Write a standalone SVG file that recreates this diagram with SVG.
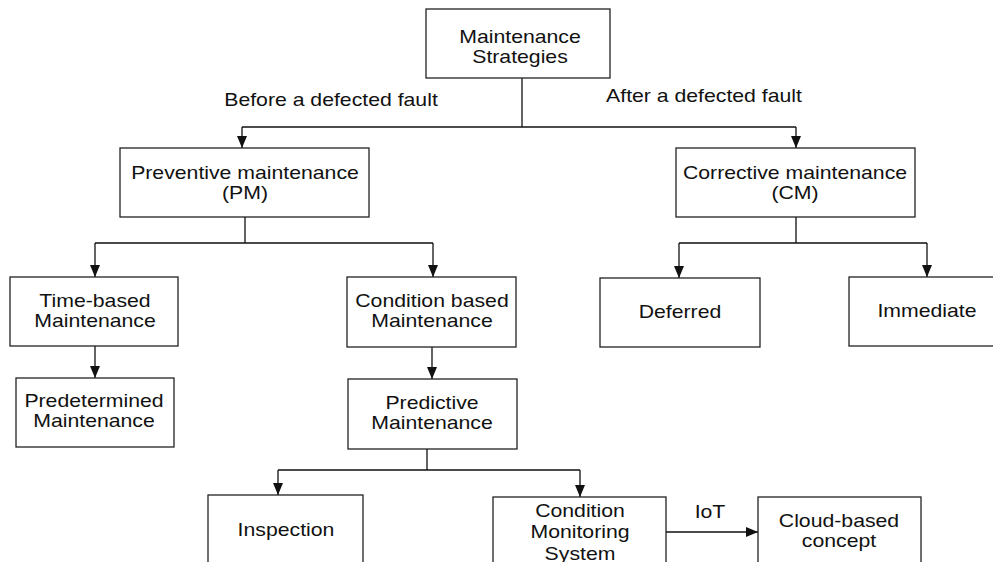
<svg xmlns="http://www.w3.org/2000/svg" width="993" height="562" viewBox="0 0 993 562">
<style>
.box{fill:#fff;stroke:#222;stroke-width:1.3}
.t{font-family:"Liberation Sans",Arial,sans-serif;font-size:18px;fill:#111;text-anchor:middle}
.c{fill:none;stroke:#111;stroke-width:1.3}
</style>
<defs>
<marker id="ah" markerUnits="userSpaceOnUse" markerWidth="12" markerHeight="12" viewBox="0 0 12 10" refX="12" refY="5" orient="auto">
<path d="M0,0 L12,5 L0,10 Z" fill="#111"/>
</marker>
</defs>
<rect width="993" height="562" fill="#fff"/>
<g id="connectors">
<path class="c" d="M522,78 V127"/>
<path class="c" d="M242,127 H796"/>
<path class="c" d="M242,127 V148" marker-end="url(#ah)"/>
<path class="c" d="M796,127 V148" marker-end="url(#ah)"/>
<path class="c" d="M245,217 V243 M95,243 H433"/>
<path class="c" d="M95,243 V277" marker-end="url(#ah)"/>
<path class="c" d="M433,243 V277" marker-end="url(#ah)"/>
<path class="c" d="M796,217 V243 M679,243 H927"/>
<path class="c" d="M679,243 V278" marker-end="url(#ah)"/>
<path class="c" d="M927,243 V277" marker-end="url(#ah)"/>
<path class="c" d="M95,346 V378" marker-end="url(#ah)"/>
<path class="c" d="M432,347 V379" marker-end="url(#ah)"/>
<path class="c" d="M427,449 V470 M278,470 H580"/>
<path class="c" d="M278,470 V495" marker-end="url(#ah)"/>
<path class="c" d="M580,470 V497" marker-end="url(#ah)"/>
<path class="c" d="M666,532 H758" marker-end="url(#ah)"/>
<text class="t" transform="translate(331,106) scale(1.18,1)">Before a defected fault</text>
<text class="t" transform="translate(704,102) scale(1.18,1)">After a defected fault</text>
<text class="t" transform="translate(710,518) scale(1.18,1)">IoT</text>
</g>
<g id="strategies">
<rect class="box" x="426" y="9" width="184" height="69"/>
<text class="t" transform="translate(520,43) scale(1.18,1)"><tspan x="0">Maintenance</tspan><tspan x="0" dy="20">Strategies</tspan></text>
</g>
<g id="pm">
<rect class="box" x="120" y="148" width="249" height="69"/>
<text class="t" transform="translate(245,179) scale(1.18,1)"><tspan x="0">Preventive maintenance</tspan><tspan x="0" dy="20">(PM)</tspan></text>
</g>
<g id="cm">
<rect class="box" x="676" y="148" width="239" height="69"/>
<text class="t" transform="translate(795,179) scale(1.18,1)"><tspan x="0">Corrective maintenance</tspan><tspan x="0" dy="20">(CM)</tspan></text>
</g>
<g id="timebased">
<rect class="box" x="10" y="277" width="168" height="69"/>
<text class="t" transform="translate(95,307) scale(1.18,1)"><tspan x="0">Time-based</tspan><tspan x="0" dy="20">Maintenance</tspan></text>
</g>
<g id="conditionbased">
<rect class="box" x="347" y="277" width="169" height="70"/>
<text class="t" transform="translate(432,307) scale(1.18,1)"><tspan x="0">Condition based</tspan><tspan x="0" dy="20">Maintenance</tspan></text>
</g>
<g id="deferred">
<rect class="box" x="600" y="278" width="160" height="69"/>
<text class="t" transform="translate(680,318) scale(1.18,1)">Deferred</text>
</g>
<g id="immediate">
<rect class="box" x="849" y="277" width="160" height="69"/>
<text class="t" transform="translate(927,317) scale(1.18,1)">Immediate</text>
</g>
<g id="predetermined">
<rect class="box" x="16" y="378" width="158" height="69"/>
<text class="t" transform="translate(94,407) scale(1.18,1)"><tspan x="0">Predetermined</tspan><tspan x="0" dy="20">Maintenance</tspan></text>
</g>
<g id="predictive">
<rect class="box" x="348" y="379" width="169" height="70"/>
<text class="t" transform="translate(432,409) scale(1.18,1)"><tspan x="0">Predictive</tspan><tspan x="0" dy="20">Maintenance</tspan></text>
</g>
<g id="inspection">
<rect class="box" x="208" y="495" width="155" height="80"/>
<text class="t" transform="translate(286,536) scale(1.18,1)">Inspection</text>
</g>
<g id="cms">
<rect class="box" x="493" y="497" width="173" height="80"/>
<text class="t" transform="translate(580,517) scale(1.18,1)"><tspan x="0">Condition</tspan><tspan x="0" dy="21.5">Monitoring</tspan><tspan x="0" dy="21.5">System</tspan></text>
</g>
<g id="cloud">
<rect class="box" x="758" y="497" width="163" height="80"/>
<text class="t" transform="translate(839,527) scale(1.18,1)"><tspan x="0">Cloud-based</tspan><tspan x="0" dy="20">concept</tspan></text>
</g>
</svg>
